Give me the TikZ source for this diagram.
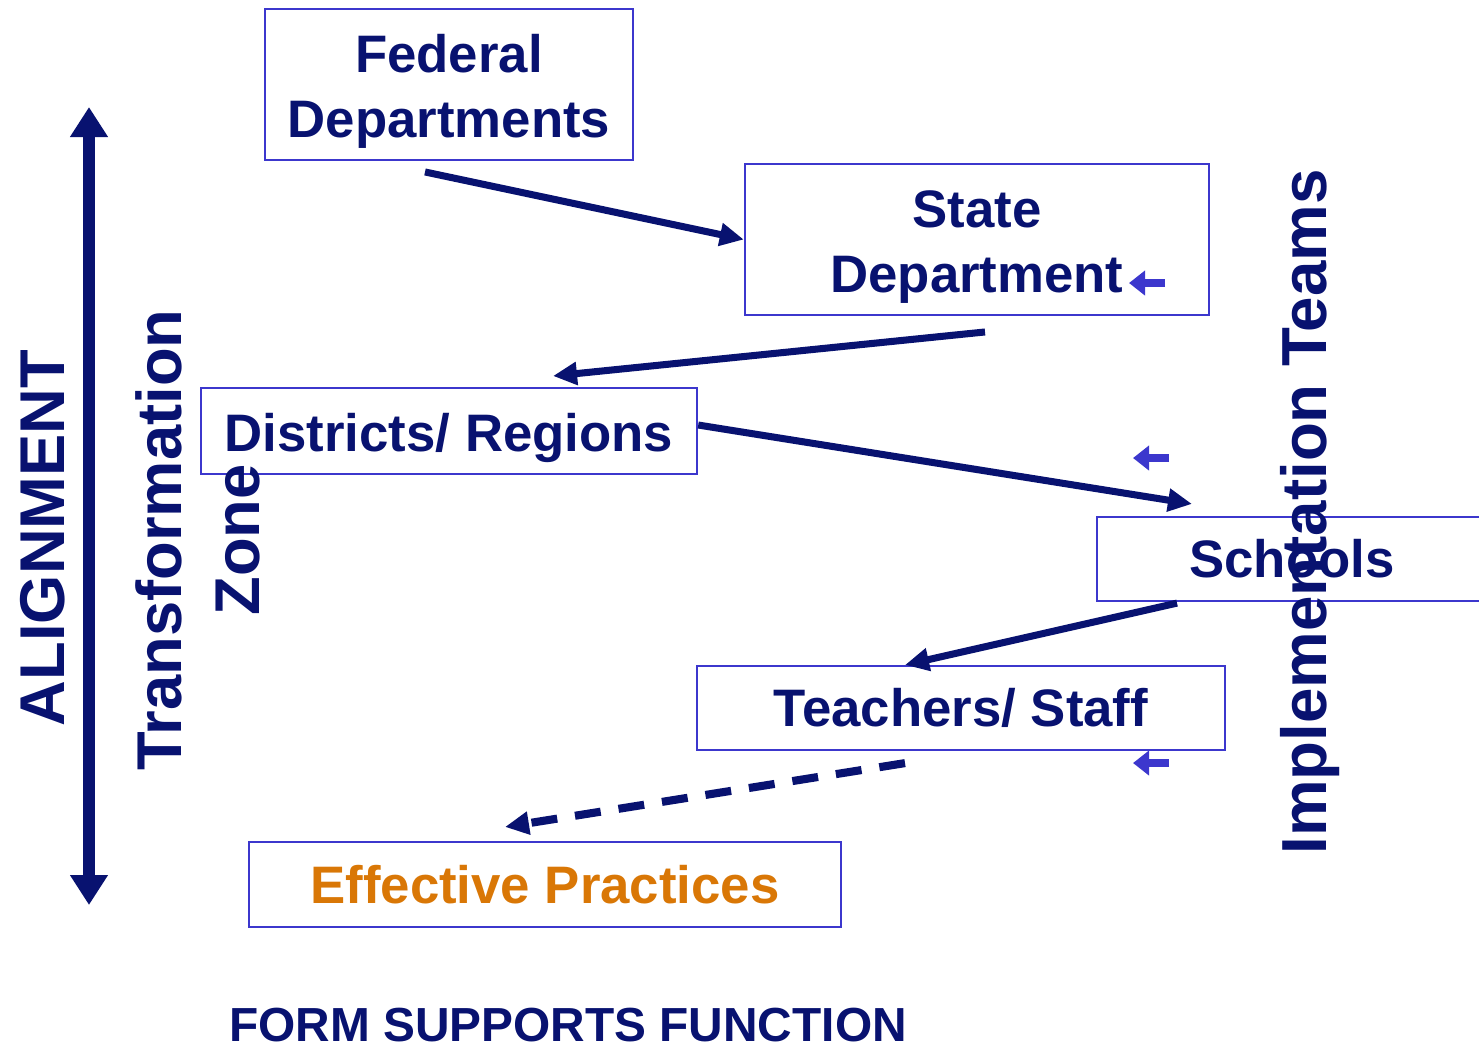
\documentclass[tikz,border=0pt]{standalone}
\usepackage{fontspec}
\setmainfont{Liberation Sans}
\usetikzlibrary{arrows.meta}
\definecolor{navy}{RGB}{8,18,112}
\definecolor{boxblue}{RGB}{60,55,205}
\definecolor{practice}{RGB}{217,119,6}
\tikzset{
  box/.style={draw=boxblue,line width=0.6pt,text=navy,align=center,font=\fontsize{15}{18.5}\selectfont\bfseries},
  flow/.style={navy,line width=2pt,-{Triangle[length=0.24cm,width=0.22cm]}},
  back/.style={boxblue,line width=2.2pt,-{Triangle[length=0.16cm,width=0.24cm]}},
  label/.style={text=navy,align=center,inner sep=0pt}
}
\newcommand{\lift}{\rule{0pt}{14.6pt}}

\begin{document}
\begin{tikzpicture}[x=0.01cm,y=-0.01cm]
        \useasboundingbox (0,0) rectangle (1479,1047);
        \draw (449,84.5)  node[box,minimum width=3.68cm,minimum height=1.49cm] (fed) {\lift Federal\\Departments};
        \draw (977,239.5) node[box,minimum width=4.64cm,minimum height=1.49cm] (state) {\lift State\\Department};
        \draw (449,431)   node[box,minimum width=4.96cm,minimum height=0.84cm] (dist) {\lift Districts/ Regions};
        \draw (1292,559)  node[box,minimum width=3.90cm,minimum height=0.84cm] (school) {Schools};
        \draw (961,708)   node[box,minimum width=5.28cm,minimum height=0.84cm] (teach) {Teachers/ Staff};
        \draw (545,884.5) node[box,minimum width=5.92cm,minimum height=0.85cm,text=practice] (eff) {Effective Practices};
        \node[label,rotate=90,font=\fontsize{18}{22}\selectfont\bfseries] (align) at (43,538) {ALIGNMENT};
        \node[label,rotate=90,font=\fontsize{18}{22}\selectfont\bfseries] (zone) at (198,540) {Transformation\\Zone};
        \node[label,rotate=90,font=\fontsize{18.1}{22}\selectfont\bfseries] (teams) at (1310,512) {Implementation Teams};
        \node[label,font=\fontsize{13.6}{16}\selectfont\bfseries] (form) at (568,1025) {FORM SUPPORTS FUNCTION};
        \coordinate (top) at (89,107);
        \coordinate (bottom) at (89,905);
        \coordinate (b1) at (1165,283);
        \coordinate (a1) at (1129,283);
        \coordinate (b2) at (1169,458);
        \coordinate (a2) at (1133,458);
        \coordinate (b3) at (1169,763);
        \coordinate (a3) at (1133,763);
        \draw[navy,line width=3.4pt,{Triangle[length=0.3cm,width=0.36cm]}-{Triangle[length=0.3cm,width=0.36cm]}] (top) -- (bottom);
        \draw[flow] ([shift={(-24,11)}]fed.south) -- (state.west);
        \draw[flow] ([shift={(8,16)}]state.south) -- ([shift={(104,-11)}]dist.north);
        \draw[flow] ([shift={(0,-6)}]dist.east) -- ([shift={(-100,-12)}]school.north);
        \draw[flow] ([shift={(-115,1)}]school.south) -- ([shift={(-56,0)}]teach.north);
        \draw[flow,line width=2.3pt,dash pattern=on 0.26cm off 0.18cm] ([shift={(-56,12)}]teach.south) -- ([shift={(-40,-14)}]eff.north);
        \draw[back] (b1) -- (a1);
        \draw[back] (b2) -- (a2);
        \draw[back] (b3) -- (a3);
    \end{tikzpicture}
\end{document}
